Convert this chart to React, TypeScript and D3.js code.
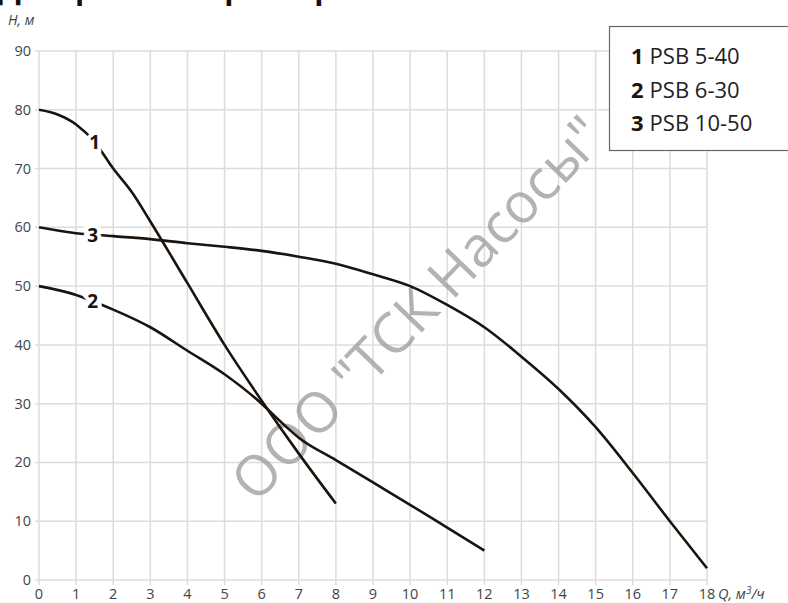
import React from 'react';
import * as d3 from 'd3';

// Q, m3/h  -> H, m
const pump1Q = [0, 0.5, 1, 1.5, 2, 2.5, 3, 4, 5, 6, 7, 8];
const pump1H = [80, 79.2, 77.5, 74.5, 70, 66, 61, 50.5, 40, 30.5, 21.5, 13];

const pump2Q = [0, 1, 1.5, 2, 3, 4, 5, 6, 6.5, 7, 8, 9, 10, 11, 12];
const pump2H = [50, 48.5, 47.3, 46, 43, 39, 35, 30, 27, 24.2, 20.4, 16.6, 12.8, 8.9, 5];

const pump3Q = [0, 1, 2, 3, 4, 5, 6, 7, 8, 9, 10, 11, 12, 13, 14, 15, 16, 17, 18];
const pump3H = [60, 59, 58.5, 58, 57.3, 56.7, 56, 55, 53.8, 52, 50, 46.8, 43, 38, 32.5, 26, 18.2, 10, 2];

const legendNums = ['1', '2', '3'];
const legendNames = ['PSB 5-40', 'PSB 6-30', 'PSB 10-50'];
const curveLabelQ = [1.5, 1.45, 1.45];

const xTicks = d3.range(0, 19, 1);
const yTicks = d3.range(0, 91, 10);

const W = 788;
const H = 603;
const ink = '#1c140c';
const font = '"Open Sans", "Noto Sans", sans-serif';

const App = () => {
  const x = d3.scaleLinear().domain([0, 18]).range([39, 707]);
  const y = d3.scaleLinear().domain([0, 90]).range([580, 51]);

  const series = [
    { q: pump1Q, h: pump1H },
    { q: pump2Q, h: pump2H },
    { q: pump3Q, h: pump3H },
  ];

  const line = d3
    .line<[number, number]>()
    .x((d) => x(d[0]))
    .y((d) => y(d[1]))
    .curve(d3.curveMonotoneX);

  const interp = (q: number[], h: number[], v: number) => {
    const i = Math.max(1, d3.bisectLeft(q, v));
    const t = (v - q[i - 1]) / (q[i] - q[i - 1]);
    return h[i - 1] + t * (h[i] - h[i - 1]);
  };

  return (
    <svg width={W} height={H} style={{ position: 'absolute', left: 0, top: 0, background: '#fff' }}>
      {/* title, cut off by the top edge: only descenders stay in view */}
      <text x={-2} y={-1} fontFamily={font} fontWeight={700} fontSize={30} fill="#111">
        Диаграмма характеристик
      </text>

      {/* grid */}
      <g stroke="#dcdcdc" strokeWidth={1.5}>
        {xTicks.map((t) => (
          <line key={'gx' + t} x1={x(t)} x2={x(t)} y1={y(90)} y2={y(0) + 5} />
        ))}
        {yTicks.map((t) => (
          <line key={'gy' + t} x1={x(0) - 4} x2={x(18)} y1={y(t)} y2={y(t)} />
        ))}
      </g>

      {/* tick labels */}
      <g fontFamily={font} fontSize={14.5} fill="#444">
        {xTicks.map((t) => (
          <text key={'tx' + t} x={x(t)} y={599} textAnchor="middle">
            {t}
          </text>
        ))}
        {yTicks.map((t) => (
          <text key={'ty' + t} x={31} y={y(t) + 5} textAnchor="end">
            {t}
          </text>
        ))}
      </g>
      <text x={8} y={25} fontFamily={font} fontSize={14} fontStyle="italic" fill="#444">
        H, м
      </text>
      <text x={718} y={599} fontFamily={font} fontSize={14.5} fontStyle="italic" fill="#444">
        Q, м<tspan dy={-5} fontSize={10}>3</tspan>
        <tspan dy={5}>/ч</tspan>
      </text>

      {/* watermark */}
      <text
        transform="translate(432,322) rotate(-46)"
        textAnchor="middle"
        fontFamily={font}
        fontSize={56}
        fill="#9a9a9a"
        fillOpacity={0.75}
      >
        ООО "ТСК Насосы"
      </text>

      {/* curves */}
      {series.map((s, i) => (
        <path
          key={'c' + i}
          d={line(s.q.map((q, j) => [q, s.h[j]] as [number, number])) || ''}
          fill="none"
          stroke={ink}
          strokeWidth={2.6}
        />
      ))}

      {/* curve labels */}
      {series.map((s, i) => (
        <text
          key={'l' + i}
          x={x(curveLabelQ[i])}
          y={y(interp(s.q, s.h, curveLabelQ[i])) + 7}
          textAnchor="middle"
          fontFamily={font}
          fontWeight={700}
          fontSize={19}
          fill={ink}
          stroke="#fff"
          strokeWidth={8}
          paintOrder="stroke"
        >
          {legendNums[i]}
        </text>
      ))}

      {/* legend */}
      <rect x={609.5} y={26.5} width={190} height={124} fill="#fff" stroke="#666" strokeWidth={1.2} />
      {legendNames.map((n, i) => (
        <text key={'lg' + i} x={631} y={64 + i * 33.5} fontFamily={font} fontSize={22} fill="#222">
          <tspan fontWeight={700} fill={ink}>
            {legendNums[i]}
          </tspan>
          <tspan dx={6}>{n}</tspan>
        </text>
      ))}
    </svg>
  );
};

export default App;
